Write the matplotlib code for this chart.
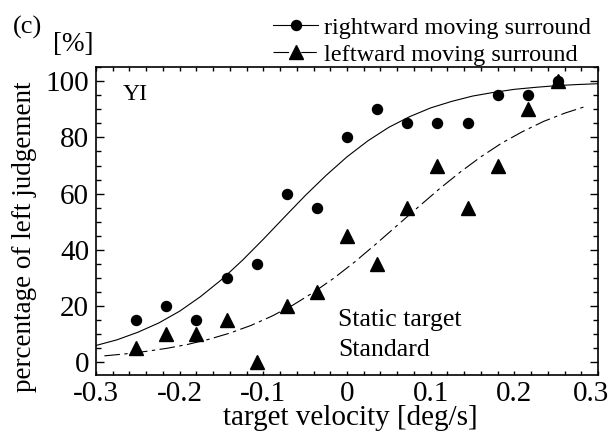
import matplotlib
matplotlib.use('Agg')
import matplotlib.pyplot as plt
import matplotlib.transforms as mtransforms
from matplotlib.ticker import MultipleLocator
import numpy as np

plt.rcParams['font.family'] = ['Liberation Serif', 'DejaVu Serif']
plt.rcParams['axes.unicode_minus'] = False

# measured points (target velocity, % left judgement)
velocity = [-0.252, -0.216, -0.18, -0.144, -0.108, -0.072, -0.036, 0.0,
            0.036, 0.072, 0.108, 0.144, 0.18, 0.216, 0.252]
right_pct = [15, 20, 15, 30, 35, 60, 55, 80, 90, 85, 85, 85, 95, 95, 100]
left_pct = [5, 10, 10, 15, 0, 20, 25, 45, 35, 55, 70, 55, 70, 90, 100]

# fitted curves
fit_right_x = [-0.3, -0.275, -0.25, -0.225, -0.2, -0.175, -0.15, -0.125, -0.1,
               -0.075, -0.05, -0.025, 0.0, 0.025, 0.05, 0.075, 0.1, 0.125,
               0.15, 0.175, 0.2, 0.225, 0.25, 0.275, 0.3]
fit_right_y = [6.0, 8.0, 10.7, 14.0, 18.2, 23.4, 29.4, 36.3, 43.8, 51.6, 59.3,
               66.5, 73.1, 78.8, 83.6, 87.4, 90.5, 92.8, 94.7, 96.0, 97.1, 97.8,
               98.4, 98.8, 99.1]
fit_left_x = [-0.29, -0.265, -0.24, -0.215, -0.19, -0.165, -0.14, -0.115, -0.09,
              -0.065, -0.04, -0.015, 0.01, 0.035, 0.06, 0.085, 0.11, 0.135,
              0.16, 0.185, 0.21, 0.235, 0.26, 0.285]
fit_left_y = [2.3, 3.0, 3.9, 5.0, 6.4, 8.2, 10.4, 13.1, 16.4, 20.3, 24.9, 30.1,
              35.9, 42.2, 48.7, 55.2, 61.6, 67.6, 73.1, 78.0, 82.1, 85.7, 88.6,
              91.0]

xtick_vals = [-0.3, -0.2, -0.1, 0, 0.1, 0.2, 0.3]
xtick_labels = ['-0.3', '-0.2', '-0.1', '0', '0.1', '0.2', '0.3']
ytick_vals = [0, 20, 40, 60, 80, 100]

fig = plt.figure(figsize=(6.14, 4.33), dpi=100)
ax = fig.add_axes([0.1564, 0.134, 0.8176, 0.711])

ax.plot(fit_right_x, fit_right_y, '-', color='black', lw=0.8)
dline, = ax.plot(fit_left_x, fit_left_y, '-', color='black', lw=0.8)
dline.set_dashes([14, 4, 3, 4])

ax.plot(velocity, right_pct, 'o', color='black', ms=7.2, clip_on=False)
ax.plot(velocity, left_pct, '^', color='black', ms=10.5, clip_on=False)

# legend handles
h1, = ax.plot([], [], '-o', color='black', lw=0.8, ms=7.2)
h2, = ax.plot([], [], '-^', color='black', lw=0.8, ms=10.5)
h2.set_dashes([14, 4, 3, 4])
fig.legend([h1, h2], ['rightward moving surround', 'leftward moving surround'],
           loc='upper left', bbox_to_anchor=(0.445, 0.961),
           bbox_transform=fig.transFigure, frameon=False, fontsize=17.5,
           handlelength=1.85, handletextpad=0.25, labelspacing=0.2,
           borderpad=0, borderaxespad=0)

ax.set_xlim(-0.3, 0.3)
ax.set_ylim(-4.5, 105)
ax.xaxis.set_minor_locator(MultipleLocator(0.02))
ax.yaxis.set_minor_locator(MultipleLocator(5))
ax.set_xticks(xtick_vals)
ax.set_xticklabels(xtick_labels)
ax.set_yticks(ytick_vals)

ax.tick_params(which='both', direction='in', top=True, right=True, width=1.0,
               labelsize=21)
ax.tick_params(axis='x', which='both', length=3, pad=4)
ax.tick_params(axis='y', which='major', length=6, pad=5)
ax.tick_params(axis='y', which='minor', length=3.6)
for s in ax.spines.values():
    s.set_linewidth(1.2)

# last x label sits a bit left so it stays inside the picture
last = ax.get_xticklabels()[-1]
last.set_transform(last.get_transform() +
                   mtransforms.ScaledTranslation(-7 / 100, 0, fig.dpi_scale_trans))

ax.set_xlabel('target velocity [deg/s]', fontsize=21)
ax.set_ylabel('percentage of left judgement', fontsize=19.5)
ax.xaxis.set_label_coords(0.506, -0.098)
ax.yaxis.set_label_coords(-0.118, 0.45)

ax.text(-0.268, 95.3, 'YI', fontsize=17, ha='left', va='center')
ax.text(-0.011, 15, 'Static target', fontsize=18.5, ha='left', va='center')
ax.text(-0.011, 4.4, 'Standard', fontsize=18.5, ha='left', va='center')

fig.text(0.021, 0.937, '(c)', fontsize=19, ha='left', va='center')
fig.text(0.086, 0.898, '[%]', fontsize=19.5, ha='left', va='center')

fig.savefig('out.png', dpi=100)
